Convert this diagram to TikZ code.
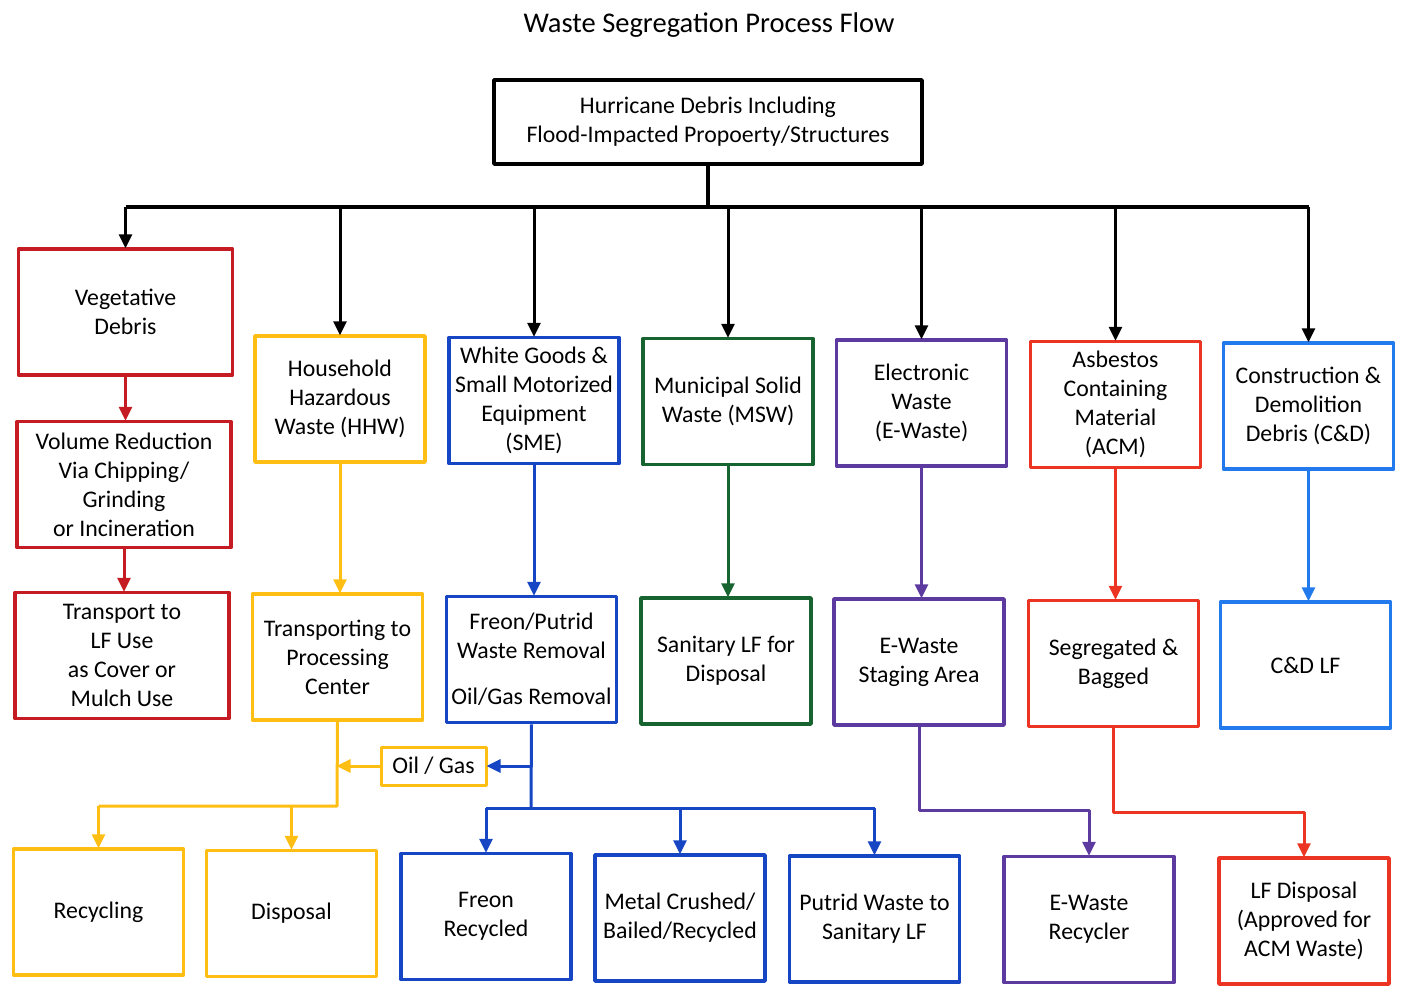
\documentclass[tikz,border=0pt]{standalone}
\usepackage{fontspec}
\setmainfont{Carlito}
\usetikzlibrary{arrows.meta}
\definecolor{vegred}{RGB}{196,28,34}
\definecolor{hhwyel}{RGB}{255,190,20}
\definecolor{smeblue}{RGB}{22,70,196}
\definecolor{mswgreen}{RGB}{24,100,48}
\definecolor{ewpurple}{RGB}{92,58,160}
\definecolor{acmred}{RGB}{236,52,34}
\definecolor{cdblue}{RGB}{34,122,236}

\begin{document}
\begin{tikzpicture}[x=1pt,y=-1pt,line join=round,
	font=\fontsize{23.8}{29}\selectfont,
	box/.style={draw,line width=3.5pt,minimum width=170pt,minimum height=126pt,align=center,inner sep=2pt,fill=white},
	arr/.style={line width=3pt,-{Triangle[length=14pt,width=13pt]},shorten >=-1pt},
	lin/.style={line width=3pt}]
	\useasboundingbox (0,0) rectangle (1401,986);
	% title and source
	\node (title) at (709,25) {\fontsize{28.5}{34}\selectfont Waste Segregation Process Flow};
	\node[box,minimum width=428pt,minimum height=84pt] (top) at (708,122) {Hurricane Debris Including\\Flood-Impacted Propoerty/Structures};
	% first row
	\node[box,draw=vegred,minimum width=214pt] (veg) at (125.5,312) {Vegetative\\Debris};
	\node[box,draw=hhwyel] (hhw) at (340,399) {Household\\Hazardous\\Waste (HHW)};
	\node[box,draw=smeblue] (sme) at (534,400.5) {White Goods \&\\Small Motorized\\Equipment\\(SME)};
	\node[box,draw=mswgreen] (msw) at (728,401.5) {Municipal Solid\\Waste (MSW)};
	\node[box,draw=ewpurple] (ew) at (921.5,403) {Electronic\\Waste\\(E-Waste)};
	\node[box,draw=acmred] (acm) at (1115.5,404.5) {Asbestos\\Containing\\Material\\(ACM)};
	\node[box,draw=cdblue] (cd) at (1308.5,406) {Construction \&\\Demolition\\Debris (C\&D)};
	% second row
	\node[box,draw=vegred,minimum width=214pt] (vol) at (124,484.5) {Volume Reduction\\Via Chipping/\\Grinding\\or Incineration};
	\node[box,draw=vegred,minimum width=214pt] (trans) at (122,655.5) {Transport to\\LF Use\\as Cover or\\Mulch Use};
	\node[box,draw=hhwyel] (proc) at (337.5,657) {Transporting to\\Processing\\Center};
	\node[box,draw=smeblue] (freon) at (531.5,659.5) {Freon/Putrid\\Waste Removal\\[17pt]Oil/Gas Removal};
	\node[box,draw=mswgreen] (sanlf) at (726,661) {Sanitary LF for\\Disposal};
	\node[box,draw=ewpurple] (stag) at (919,662) {E-Waste\\Staging Area};
	\node[box,draw=acmred] (seg) at (1113.5,663.5) {Segregated \&\\Bagged};
	\node[box,draw=cdblue] (cdlf) at (1305.5,665) {C\&D LF};
	\node[box,draw=hhwyel,line width=3pt,minimum width=105pt,minimum height=38pt] (oil) at (433.5,766) {Oil / Gas};
	% bottom row
	\node[box,draw=hhwyel] (recy) at (98.5,912) {Recycling};
	\node[box,draw=hhwyel] (disp) at (291.5,913.5) {Disposal};
	\node[box,draw=smeblue] (frec) at (486,916.5) {Freon\\Recycled};
	\node[box,draw=smeblue] (metal) at (680,918) {Metal Crushed/\\Bailed/Recycled};
	\node[box,draw=smeblue] (putrid) at (874.5,919) {Putrid Waste to\\Sanitary LF};
	\node[box,draw=ewpurple] (ewrec) at (1089,919.5) {E-Waste\\Recycler};
	\node[box,draw=acmred] (lfd) at (1304,921) {LF Disposal\\(Approved for\\ACM Waste)};
	% black bus
	\coordinate (hub) at (708,207);
	\draw[line width=4.5pt] (top.south) -- (hub);
	\draw[line width=4.5pt] (veg.north|-hub) -- (cd.north|-hub);
	\foreach \n in {veg,hhw,sme,msw,ew,acm,cd}
		\draw[arr] (\n.north|-hub) -- (\n.north);
	% coloured flows
	\draw[arr,vegred] (veg.south) -- (veg.south|-vol.north);
	\draw[arr,vegred] (vol.south) -- (vol.south|-trans.north);
	\draw[arr,hhwyel] (hhw.south) -- (hhw.south|-proc.north);
	\draw[arr,smeblue] (sme.south) -- (sme.south|-freon.north);
	\draw[arr,mswgreen] (msw.south) -- (msw.south|-sanlf.north);
	\draw[arr,ewpurple] (ew.south) -- (ew.south|-stag.north);
	\draw[arr,acmred] (acm.south) -- (acm.south|-seg.north);
	\draw[arr,cdblue] (cd.south) -- (cd.south|-cdlf.north);
	% oil / gas split
	\coordinate (yb) at (337,806);
	\coordinate (bb) at (531,808);
	\draw[lin,hhwyel] (proc.south) -- (yb) -- (recy.north|-yb);
	\foreach \n in {recy,disp}
		\draw[arr,hhwyel] (\n.north|-yb) -- (\n.north);
	\draw[lin,smeblue] (freon.south) -- (bb);
	\draw[arr,smeblue] (freon.south|-oil) -- (oil.east);
	\draw[arr,hhwyel] (oil.west) -- (proc.south|-oil);
	\draw[lin,smeblue] (frec.north|-bb) -- (putrid.north|-bb);
	\foreach \n in {frec,metal,putrid}
		\draw[arr,smeblue] (\n.north|-bb) -- (\n.north);
	% e-waste and acm
	\coordinate (pb) at (1000,810);
	\coordinate (rb) at (1200,812);
	\draw[arr,ewpurple] (stag.south) |- (pb) -| (ewrec.north);
	\draw[arr,acmred] (seg.south) |- (rb) -| (lfd.north);
\end{tikzpicture}
\end{document}
